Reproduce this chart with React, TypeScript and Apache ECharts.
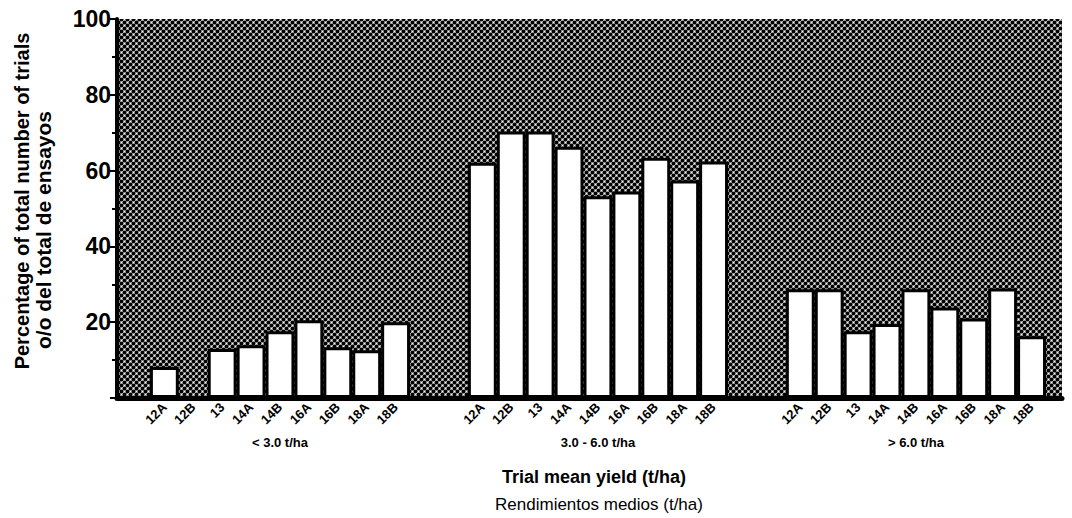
import React, { useEffect, useRef } from 'react';
import * as echarts from 'echarts';

const varieties = ['12A', '12B', '13', '14A', '14B', '16A', '16B', '18A', '18B'];
const groupNames = ['< 3.0 t/ha', '3.0 - 6.0 t/ha', '> 6.0 t/ha'];
const lowYield = [8.2, 0, 12.9, 13.9, 17.6, 20.5, 13.4, 12.6, 20];
const midYield = [62.1, 70.3, 70.3, 66.3, 53.2, 54.5, 63.4, 57.4, 62.4];
const highYield = [28.7, 28.7, 17.6, 19.5, 28.7, 23.9, 21, 28.9, 16.3];
const yTitle = ['Percentage of total number of trials', 'o/o del total de ensayos'];
const xTitle = ['Trial mean yield (t/ha)', 'Rendimientos medios (t/ha)'];

const FONT = '"Liberation Sans", Arial, Helvetica, sans-serif';

function buildSlots() {
  const groups = [lowYield, midYield, highYield];
  const cats: string[] = [''];
  const vals: (number | null)[] = [null];
  const grp: string[] = [''];
  groups.forEach((g, gi) => {
    if (gi > 0) {
      for (let k = 0; k < 2; k++) {
        cats.push('');
        vals.push(null);
        grp.push('');
      }
    }
    varieties.forEach((v, i) => {
      cats.push(v);
      vals.push(g[i]);
      grp.push(i === 4 ? groupNames[gi] : '');
    });
  });
  return { cats, vals, grp };
}

function makeTile() {
  const s = 6;
  const c = document.createElement('canvas');
  c.width = s;
  c.height = s;
  const ctx = c.getContext('2d')!;
  ctx.fillStyle = '#ffffff';
  ctx.fillRect(0, 0, s, s);
  ctx.fillStyle = '#000000';
  const centers = [
    [1.5, 1.5],
    [4.5, 4.5],
  ];
  for (const [cx, cy] of centers) {
    for (let dx = -s; dx <= s; dx += s) {
      for (let dy = -s; dy <= s; dy += s) {
        ctx.beginPath();
        ctx.arc(cx + dx, cy + dy, 2.0, 0, Math.PI * 2);
        ctx.fill();
      }
    }
  }
  return c;
}

export default function App() {
  const ref = useRef<HTMLDivElement>(null);
  useEffect(() => {
    if (!ref.current) return;
    const chart = echarts.init(ref.current, undefined, { renderer: 'svg' });
    const { cats, vals, grp } = buildSlots();
    const tile = makeTile();
    const pattern: any = { image: tile, repeat: 'repeat', imageWidth: 6, imageHeight: 6 };
    chart.setOption({
      animation: false,
      backgroundColor: '#ffffff',
      grid: [
        { left: 117, right: 10, top: 19, bottom: 120, show: true, backgroundColor: pattern, borderWidth: 0 },
        { left: 121, width: 925, top: 19, bottom: 120, show: false },
      ],
      xAxis: [
        {
          gridIndex: 0,
          type: 'value',
          min: 0,
          max: 1,
          axisLine: { show: true, lineStyle: { color: '#000', width: 5 } },
          axisTick: { show: false },
          axisLabel: { show: false },
          splitLine: { show: false },
        },
        {
          gridIndex: 1,
          type: 'category',
          position: 'bottom',
          data: cats,
          axisLine: { show: false },
          axisTick: { show: false },
          axisLabel: {
            interval: 0,
            rotate: 45,
            margin: 7,
            color: '#000',
            fontSize: 13,
            fontWeight: 'bold',
            fontFamily: FONT,
          },
        },
        {
          gridIndex: 1,
          type: 'category',
          position: 'bottom',
          offset: 32,
          data: grp,
          axisLine: { show: false },
          axisTick: { show: false },
          axisLabel: {
            interval: 0,
            margin: 6,
            color: '#000',
            fontSize: 13,
            fontWeight: 'bold',
            fontFamily: FONT,
          },
        },
      ],
      yAxis: [
        {
          gridIndex: 0,
          type: 'value',
          min: 0,
          max: 100,
          interval: 20,
          axisLine: { show: true, lineStyle: { color: '#000', width: 4 } },
          axisTick: { show: true, length: 7, lineStyle: { color: '#000', width: 2 } },
          minorTick: { show: true, splitNumber: 2, length: 5, lineStyle: { color: '#000', width: 2 } },
          splitLine: { show: false },
          minorSplitLine: { show: false },
          axisLabel: {
            margin: 6,
            color: '#000',
            fontSize: 23,
            fontWeight: 'bold',
            fontFamily: FONT,
            formatter: (v: number) => (v === 0 ? '' : String(v)),
          },
        },
        { gridIndex: 1, type: 'value', min: 0, max: 100, show: false },
      ],
      series: [
        {
          type: 'bar',
          xAxisIndex: 1,
          yAxisIndex: 1,
          data: vals,
          barWidth: '100%',
          itemStyle: { color: '#ffffff', borderColor: '#000000', borderWidth: 3 },
        },
      ],
      graphic: [
        {
          type: 'text',
          x: 22,
          y: 201,
          rotation: Math.PI / 2,
          style: {
            text: yTitle[0],
            fontSize: 20,
            fontWeight: 'bold',
            fontFamily: FONT,
            fill: '#000',
            align: 'center',
            verticalAlign: 'middle',
          },
        },
        {
          type: 'text',
          x: 43,
          y: 230,
          rotation: Math.PI / 2,
          style: {
            text: yTitle[1],
            fontSize: 21,
            fontWeight: 'bold',
            fontFamily: FONT,
            fill: '#000',
            align: 'center',
            verticalAlign: 'middle',
          },
        },
        {
          type: 'text',
          x: 594,
          y: 477,
          style: {
            text: xTitle[0],
            fontSize: 18,
            fontWeight: 'bold',
            fontFamily: FONT,
            fill: '#000',
            align: 'center',
            verticalAlign: 'middle',
          },
        },
        {
          type: 'text',
          x: 599,
          y: 504,
          style: {
            text: xTitle[1],
            fontSize: 17,
            fontFamily: FONT,
            fill: '#000',
            align: 'center',
            verticalAlign: 'middle',
          },
        },
      ],
    });
    return () => chart.dispose();
  }, []);
  return (
    <div
      ref={ref}
      style={{ position: 'fixed', left: 0, top: 0, width: 1072, height: 518 }}
    />
  );
}
